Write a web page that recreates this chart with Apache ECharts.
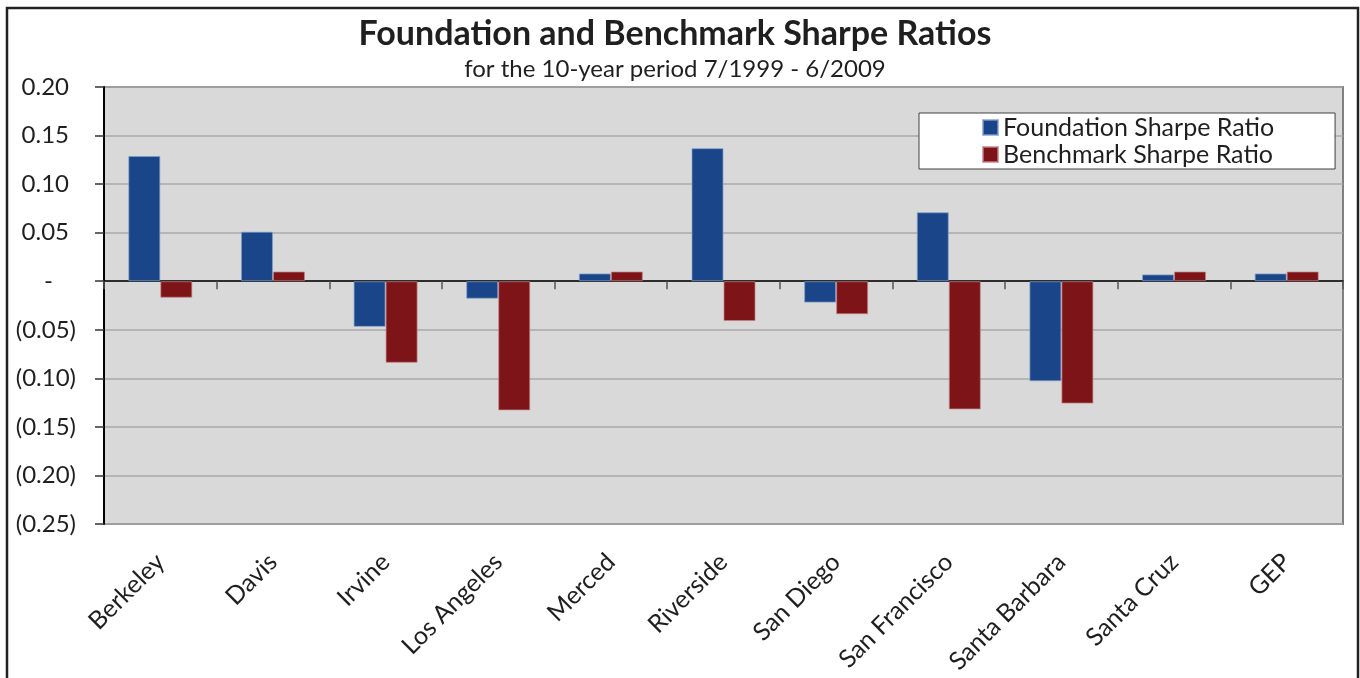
<!DOCTYPE html>
<html>
<head>
<meta charset="utf-8">
<script src="https://cdn.jsdelivr.net/npm/echarts@6/dist/echarts.min.js"></script>
<style>
  html, body { margin: 0; padding: 0; background: #ffffff; }
  #chart { width: 1360px; height: 678px; }
</style>
</head>
<body>
<div id="chart"></div>
<script>
// Campus names along the category axis
const campuses = ['Berkeley', 'Davis', 'Irvine', 'Los Angeles', 'Merced', 'Riverside',
  'San Diego', 'San Francisco', 'Santa Barbara', 'Santa Cruz', 'GEP'];

// Sharpe ratios, 10-year period 7/1999 - 6/2009
const foundationSharpe = [0.129, 0.051, -0.047, -0.018, 0.008, 0.137, -0.022, 0.071, -0.103, 0.007, 0.008];
const benchmarkSharpe = [-0.017, 0.010, -0.084, -0.133, 0.010, -0.041, -0.034, -0.132, -0.126, 0.010, 0.010];

const seriesNames = ['Foundation Sharpe Ratio', 'Benchmark Sharpe Ratio'];
const titleText = 'Foundation and Benchmark Sharpe Ratios';
const subtitleText = 'for the 10-year period 7/1999 - 6/2009';

const FONT = 'Lato';
const INK = '#1f1f1f';

// Accounting-style tick labels: 0.20 / - / (0.05)
function accounting(v) {
  if (Math.abs(v) < 1e-9) return '{z|-}';
  if (v < 0) return '{n|(' + Math.abs(v).toFixed(2) + ')}';
  return '{p|' + v.toFixed(2) + '}';
}

const labelRich = {
  p: { fontFamily: FONT, fontSize: 24, color: INK, padding: [0, 7, 0, 0] },
  n: { fontFamily: FONT, fontSize: 24, color: INK },
  z: { fontFamily: FONT, fontSize: 24, color: INK, padding: [0, 23, 0, 0] }
};

const chart = echarts.init(document.getElementById('chart'), null, { renderer: 'canvas' });

chart.setOption({
  animation: false,
  backgroundColor: '#ffffff',
  title: [
    {
      text: titleText,
      left: 670, top: 12, textAlign: 'center',
      textStyle: { fontFamily: FONT, fontSize: 34, fontWeight: 'bold', color: INK }
    },
    {
      text: subtitleText,
      left: 670, top: 52, textAlign: 'center',
      textStyle: { fontFamily: FONT, fontSize: 24, fontWeight: 'normal', color: INK }
    }
  ],
  legend: {
    data: seriesNames,
    orient: 'vertical',
    left: 919, top: 113,
    padding: [2, 61, 2, 63],
    itemWidth: 15, itemHeight: 15, itemGap: 2,
    icon: 'rect',
    backgroundColor: '#ffffff',
    borderColor: '#404040', borderWidth: 1,
    textStyle: { fontFamily: FONT, fontSize: 25, color: INK }
  },
  grid: {
    left: 104, right: 17, top: 87, bottom: 154,
    show: true,
    backgroundColor: '#d9d9d9',
    borderColor: '#808080', borderWidth: 2
  },
  xAxis: [
    {
      // zero line with category tick marks
      type: 'category', data: campuses, position: 'top',
      axisLine: { onZero: true, lineStyle: { color: '#000000', width: 1.5 } },
      axisTick: { show: true, inside: true, length: 8, lineStyle: { color: '#555555', width: 1.5 } },
      axisLabel: { show: false },
      splitLine: { show: false }
    },
    {
      // campus labels along the bottom edge
      type: 'category', data: campuses, position: 'bottom',
      axisLine: { show: false, onZero: false },
      axisTick: { show: false },
      axisLabel: {
        rotate: 45, margin: 34, interval: 0,
        fontFamily: FONT, fontSize: 25, color: INK
      },
      splitLine: { show: false }
    }
  ],
  yAxis: {
    type: 'value', min: -0.25, max: 0.2, interval: 0.05,
    axisLine: { show: true, lineStyle: { color: '#000000', width: 2 } },
    axisTick: { show: true, length: 9, lineStyle: { color: '#333333', width: 1.5 } },
    axisLabel: { formatter: accounting, rich: labelRich, margin: 28, fontFamily: FONT, fontSize: 24, color: INK },
    splitLine: { show: true, lineStyle: { color: '#a8a8a8', width: 1.5 } }
  },
  series: [
    {
      name: seriesNames[0], type: 'bar', xAxisIndex: 0,
      data: foundationSharpe,
      barWidth: 32, barGap: '0%',
      itemStyle: { color: '#1a4689', borderColor: 'rgba(130,160,205,0.7)', borderWidth: 1 }
    },
    {
      name: seriesNames[1], type: 'bar', xAxisIndex: 0,
      data: benchmarkSharpe,
      barWidth: 32, barGap: '0%',
      itemStyle: { color: '#7d1418', borderColor: 'rgba(200,130,130,0.7)', borderWidth: 1 }
    }
  ],
  graphic: [
    {
      // outer chart frame
      type: 'rect', z: 100, silent: true,
      shape: { x: 7, y: 8, width: 1351, height: 700 },
      style: { fill: 'none', stroke: '#222222', lineWidth: 2.5 }
    }
  ]
});
</script>
</body>
</html>
